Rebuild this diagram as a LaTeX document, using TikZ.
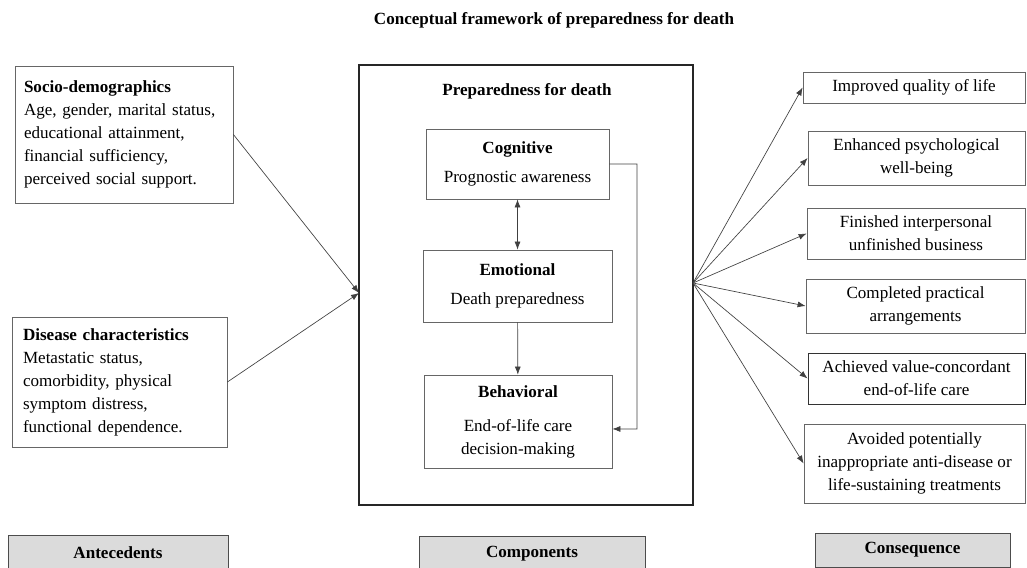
\documentclass[tikz,border=0pt]{standalone}
\usepackage{fontspec}
\setmainfont{Liberation Serif}
\usetikzlibrary{arrows.meta}

\begin{document}
\begin{tikzpicture}[x=0.75pt,y=0.75pt,yscale=-1,xscale=1,
  font=\fontsize{12.8}{17.25}\selectfont,
  box/.style={draw=black!60,line width=0.6pt,inner sep=0.75pt,align=center},
  leftbox/.style={draw=black!60,line width=0.6pt,inner ysep=0.75pt,align=left},
  tagbox/.style={draw=black!70,line width=0.7pt,fill=black!14,inner sep=0.75pt,align=center},
  link/.style={draw=black!75,line width=0.5pt,-{Latex[length=6pt,width=4.5pt]}}]
\useasboundingbox (0,0) rectangle (1027,567);

% Text Node
\node (title) at (554,20) {\textbf{Conceptual framework of preparedness for death}};

%Shape: Rectangle
\node [leftbox,inner xsep=6.75pt,text width=150pt,minimum height=102.75pt] (socio) at (124,134.5) {\textbf{Socio-demographics}\\Age, gender, marital status,\\educational attainment,\\financial sufficiency,\\perceived social support.};
%Shape: Rectangle
\node [leftbox,inner xsep=8.25pt,text width=144.75pt,minimum height=97.5pt] (disease) at (119.5,382) {\textbf{Disease characteristics}\\Metastatic status,\\comorbidity, physical\\symptom distress,\\functional dependence.};

%Shape: Rectangle
\node [draw=black!85,line width=0.8pt,minimum width=250.5pt,minimum height=330pt] (comp) at (526,285) {};
% Text Node
\node (comptitle) at (527,91) {\textbf{Preparedness for death}};
%Shape: Rectangle
\node [box,minimum width=137.25pt,minimum height=52.5pt] (cog) at (517.5,164) {\textbf{Cognitive}\\[4.5pt]Prognostic awareness};
%Shape: Rectangle
\node [box,minimum width=141.75pt,minimum height=54pt] (emo) at (517.5,286) {\textbf{Emotional}\\[4.5pt]Death preparedness};
%Shape: Rectangle
\node [box,minimum width=141pt,minimum height=69.75pt] (beh) at (518,421.5) {\textbf{Behavioral}\\[8.25pt]End-of-life care\\decision-making};

%Shape: Rectangle
\node [box,minimum width=166.5pt,minimum height=23.25pt] (qol) at (914,87.5) {Improved quality of life};
%Shape: Rectangle
\node [box,minimum width=162.75pt,minimum height=40.5pt] (psy) at (916.5,158) {Enhanced psychological\\well-being};
%Shape: Rectangle
\node [box,minimum width=163.5pt,minimum height=38.25pt] (biz) at (916,233.5) {Finished interpersonal\\unfinished business};
%Shape: Rectangle
\node [box,minimum width=164.25pt,minimum height=40.5pt] (prac) at (915.5,306) {Completed practical\\arrangements};
%Shape: Rectangle
\node [box,draw=black!80,line width=0.7pt,minimum width=162.75pt,minimum height=38.25pt] (care) at (916.5,378.5) {Achieved value-concordant\\end-of-life care};
%Shape: Rectangle
\node [box,minimum width=165.75pt,minimum height=59.25pt] (treat) at (914.5,463.5) {Avoided potentially\\inappropriate anti-disease or\\life-sustaining treatments};

%Shape: Rectangle
\node [tagbox,minimum width=165pt,minimum height=27pt] (lblante) at (118,553) {\textbf{Antecedents}};
%Shape: Rectangle
\node [tagbox,minimum width=169.5pt,minimum height=27pt] (lblcomp) at (532,554) {\textbf{Components}};
%Shape: Rectangle
\node [tagbox,minimum width=146.25pt,minimum height=25.5pt] (lblcons) at (912.5,550) {\textbf{Consequence}};

%Straight Lines
\coordinate (inpt) at (359,293);
\draw [link] (socio.east) -- (inpt);
\draw [link] (disease.east) -- (inpt);
%Straight Lines
\draw [link,{Latex[length=6pt,width=4.5pt]}-{Latex[length=6pt,width=4.5pt]}] (cog) -- (emo);
\draw [link] (emo) -- (beh);
\draw [link] (cog.east) -| (637,429) -- ([yshift=5.6pt]beh.east);
%Straight Lines
\coordinate (outpt) at (693,283);
\foreach \n in {qol,psy,biz,prac,care,treat}
  \draw [link] (outpt) -- (\n.west);

\end{tikzpicture}
\end{document}
